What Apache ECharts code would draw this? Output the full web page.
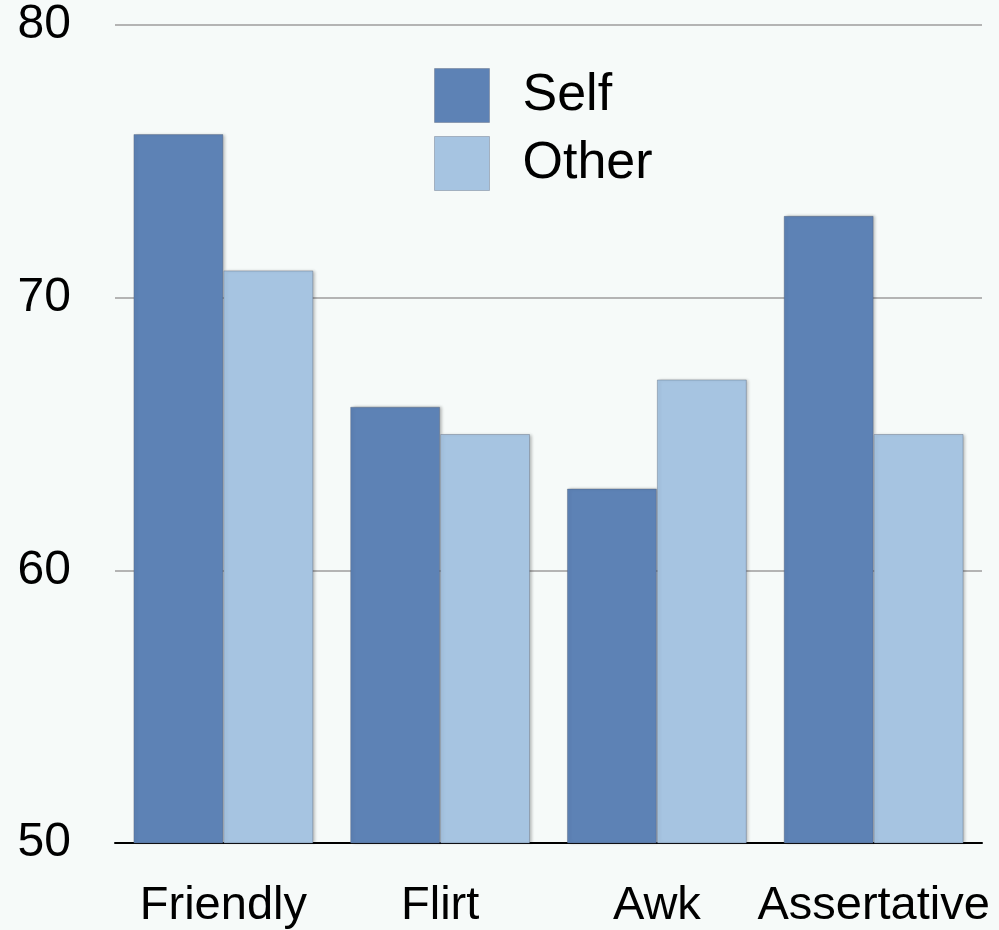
<!DOCTYPE html>
<html><head><meta charset="utf-8">
<script src="https://cdn.jsdelivr.net/npm/echarts@6/dist/echarts.min.js"></script>
<style>html,body{margin:0;padding:0;background:#f6faf9;}#c{width:999px;height:930px;}</style>
</head><body><div id="c"></div>
<script>
const categories = ["Friendly", "Flirt", "Awk", "Assertative"];
const selfValues = [76, 66, 63, 73];
const otherValues = [71, 65, 67, 65];
const yTicks = [50, 60, 70, 80];

const chart = echarts.init(document.getElementById('c'), null, {renderer: 'canvas'});
const font = '"Liberation Sans", Arial, Helvetica, sans-serif';
const barStyle = (c) => ({color: c, borderColor: 'rgba(80,90,110,0.35)', borderWidth: 1,
  shadowColor: 'rgba(0,0,0,0.25)', shadowBlur: 3, shadowOffsetX: 2});
chart.setOption({
  backgroundColor: '#f6faf9',
  animation: false,
  grid: {left: 115, right: 17, top: 25, bottom: 87, containLabel: false},
  legend: {
    orient: 'vertical', left: 434, top: 68, padding: 0, itemWidth: 55, itemHeight: 54, itemGap: 13,
    icon: 'rect',
    textStyle: {fontFamily: font, fontSize: 52, color: '#000', padding: [12, 0, 0, 28]},
    data: ['Self', 'Other'],
    itemStyle: {borderColor: 'rgba(80,90,110,0.35)', borderWidth: 1}
  },
  xAxis: {
    type: 'category', data: categories,
    axisLine: {lineStyle: {color: '#000', width: 2}},
    axisTick: {show: false},
    axisLabel: {fontFamily: font, fontSize: 47, color: '#000', margin: 40, interval: 0}
  },
  yAxis: {
    type: 'value', min: yTicks[0], max: yTicks[yTicks.length - 1], interval: 10,
    axisLine: {show: false}, axisTick: {show: false},
    axisLabel: {fontFamily: font, fontSize: 48, color: '#000', margin: 44},
    splitLine: {lineStyle: {color: '#b4b4b4', width: 2}}
  },
  series: [
    {name: 'Self', type: 'bar', data: selfValues, barGap: '0%', barCategoryGap: '17%', itemStyle: barStyle('#5d82b5')},
    {name: 'Other', type: 'bar', data: otherValues, barGap: '0%', barCategoryGap: '17%', itemStyle: barStyle('#a6c4e1')}
  ]
});
</script></body></html>
